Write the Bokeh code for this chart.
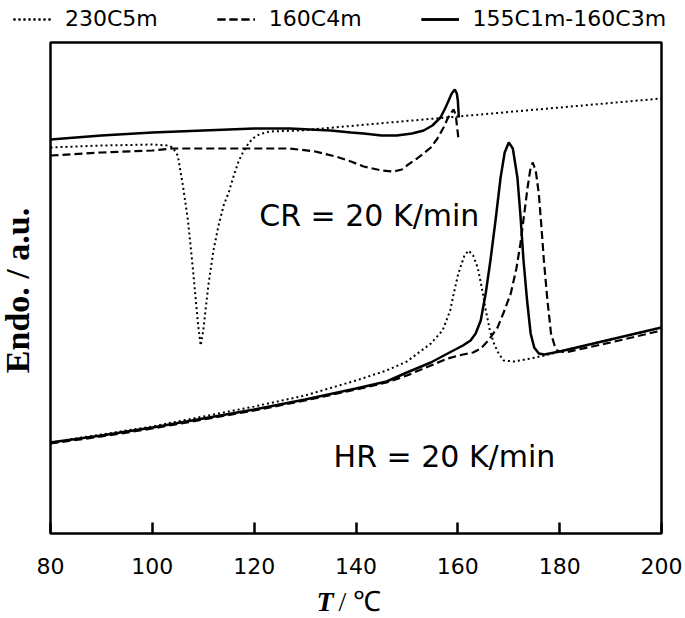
import math
from bokeh.plotting import figure
from bokeh.models import Range1d, FixedTicker, Label, Legend, LegendItem, BoxAnnotation
from bokeh.embed import file_html
from bokeh.resources import INLINE

# ---- data (temperature in deg C, heat flow in arbitrary units) ----
# cooling scans (CR = 20 K/min)
cool_230C5m_T = [80, 90, 100, 103, 104, 105, 106, 107, 108, 109, 109.5, 110, 111, 112, 113, 114, 115, 116, 117, 118, 119, 120, 121, 123, 129, 140, 160, 180, 200]
cool_230C5m_y = [38.6, 38.8, 38.9, 38.8, 38.6, 37.8, 34.8, 31.3, 26.3, 20.8, 18.8, 20.3, 24.8, 28.3, 30.8, 32.8, 34.1, 35.8, 37.3, 38.3, 39.1, 39.6, 39.9, 40.2, 40.3, 40.8, 41.7, 42.6, 43.5]

cool_160C4m_T = [80, 90, 100, 104, 110, 120, 127, 132, 136, 139, 141.5, 145, 147.4, 149, 150, 152, 154.7, 156, 157.2, 158, 158.6, 159.2, 159.6, 160, 160.1]
cool_160C4m_y = [37.8, 38.1, 38.3, 38.5, 38.5, 38.5, 38.5, 38.2, 37.7, 37.2, 36.7, 36.3, 36.2, 36.4, 36.8, 37.5, 38.6, 39.5, 40.6, 41.5, 42.0, 42.4, 41.8, 40.0, 39.6]

cool_155C1m_160C3m_T = [80, 90, 100, 110, 120, 127, 135, 139, 141.5, 145, 148, 151, 153.3, 155, 156.6, 157.5, 158.2, 158.8, 159.4, 159.8, 160, 160.2]
cool_155C1m_160C3m_y = [39.4, 39.8, 40.1, 40.3, 40.5, 40.5, 40.3, 40.1, 40.0, 39.8, 39.8, 40.0, 40.3, 40.8, 41.6, 42.5, 43.3, 44.0, 44.4, 44.0, 43.3, 41.6]

# heating scans (HR = 20 K/min)
heat_230C5m_T = [80, 90, 100, 110, 120, 130, 140, 146, 150, 154.7, 157, 158.5, 159.2, 160, 160.5, 161.3, 162.1, 163, 163.9, 164.7, 165.5, 166.3, 167.1, 168, 169, 171, 174.3, 177, 180, 190, 200]
heat_230C5m_y = [9.1, 9.9, 10.7, 11.7, 12.7, 13.8, 15.3, 16.3, 17.2, 19.0, 20.3, 22.3, 24.0, 25.8, 26.6, 27.8, 28.3, 27.8, 26.6, 24.6, 22.3, 20.3, 19.0, 18.0, 17.3, 17.2, 17.5, 17.8, 18.2, 19.4, 20.6]

heat_160C4m_T = [80, 90, 100, 110, 120, 130, 140, 146, 150, 154.7, 158, 161, 163, 164.5, 166, 167.8, 169, 170.4, 171.5, 172.3, 173, 173.7, 174.2, 174.7, 175.3, 175.9, 176.4, 176.9, 177.6, 178.3, 179, 179.5, 181, 190, 200]
heat_160C4m_y = [9.0, 9.7, 10.5, 11.4, 12.3, 13.3, 14.4, 15.1, 15.8, 16.8, 17.5, 17.9, 18.1, 18.5, 19.3, 20.6, 22.1, 24.0, 26.5, 29.0, 31.8, 34.6, 36.3, 37.1, 36.3, 34.0, 30.8, 27.3, 23.3, 20.0, 18.8, 18.3, 18.1, 19.1, 20.3]

heat_155C1m_160C3m_T = [80, 90, 100, 110, 120, 130, 140, 146, 150, 154.7, 158, 161, 162.5, 163.5, 164.5, 165.5, 166.4, 167.4, 168.4, 169.2, 170, 170.8, 171.7, 172.3, 172.9, 173.6, 174.3, 175, 175.9, 177, 180, 190, 200]
heat_155C1m_160C3m_y = [9.1, 9.8, 10.6, 11.5, 12.4, 13.4, 14.5, 15.2, 16.1, 17.1, 18.0, 18.8, 19.3, 20.0, 21.3, 24.1, 27.3, 31.3, 35.6, 38.1, 39.1, 38.5, 35.6, 31.8, 27.3, 23.3, 20.0, 18.6, 18.0, 17.9, 18.2, 19.4, 20.6]

series_names = ["230C5m", "160C4m", "155C1m-160C3m"]
x_ticks = [80, 100, 120, 140, 160, 180, 200]
x_box = (80, 200)      # plotted temperature span
y_box = (0, 49.1)      # plotted signal span (a.u.)

# ---- figure: frame covers the whole canvas, the box is drawn as an annotation ----
W, H = 685, 618
px_per_deg = 611 / (x_box[1] - x_box[0])
px_per_au = 10.0
p = figure(width=W, height=H, output_backend="svg", toolbar_location=None,
           x_range=Range1d(x_box[0] - 50 / px_per_deg, x_box[1] + (W - 661) / px_per_deg),
           y_range=Range1d(y_box[0] - (H - 533) / px_per_au, y_box[0] + 533 / px_per_au),
           min_border=0)
p.grid.visible = False
p.background_fill_color = "white"
p.border_fill_color = "white"
p.outline_line_color = None
p.yaxis.visible = False

p.add_layout(BoxAnnotation(left=x_box[0], right=x_box[1], bottom=y_box[0], top=y_box[1],
                           fill_alpha=0, line_color="black", line_alpha=1.0, line_width=2.5))

xa = p.xaxis[0]
xa.fixed_location = y_box[0]
xa.ticker = FixedTicker(ticks=x_ticks)
xa.axis_line_color = None
xa.major_tick_line_width = 2.5
xa.major_tick_in = 11
xa.major_tick_out = 0
xa.minor_tick_line_color = None
xa.major_label_text_font = "DejaVu Sans"
xa.major_label_text_font_size = "22px"
xa.major_label_text_color = "black"
xa.major_label_standoff = 24

styles = {
    "230C5m": dict(line_dash="2 3", line_width=2),
    "160C4m": dict(line_dash="8 4", line_width=2.2),
    "155C1m-160C3m": dict(line_dash="solid", line_width=2.5),
}

cool = {"230C5m": (cool_230C5m_T, cool_230C5m_y),
        "160C4m": (cool_160C4m_T, cool_160C4m_y),
        "155C1m-160C3m": (cool_155C1m_160C3m_T, cool_155C1m_160C3m_y)}
heat = {"230C5m": (heat_230C5m_T, heat_230C5m_y),
        "160C4m": (heat_160C4m_T, heat_160C4m_y),
        "155C1m-160C3m": (heat_155C1m_160C3m_T, heat_155C1m_160C3m_y)}

items = []
for name in series_names:
    r1 = p.line(cool[name][0], cool[name][1], line_color="black", **styles[name])
    r2 = p.line(heat[name][0], heat[name][1], line_color="black", **styles[name])
    items.append(LegendItem(label=name, renderers=[r1, r2]))

legend = Legend(items=items, orientation="horizontal", location=(13, 587),
                border_line_color=None, background_fill_alpha=0,
                label_text_font="DejaVu Sans", label_text_font_size="22px",
                label_text_color="black",
                glyph_width=38, glyph_height=20, label_standoff=14, spacing=59,
                padding=0, margin=0)
p.add_layout(legend, "center")

common = dict(text_color="black", text_baseline="middle")
p.add_layout(Label(x=121.0, y=31.8, text="CR = 20 K/min", text_font="DejaVu Sans",
                   text_font_size="30px", text_align="left", **common))
p.add_layout(Label(x=135.6, y=7.7, text="HR = 20 K/min", text_font="DejaVu Sans",
                   text_font_size="30px", text_align="left", **common))

# axis titles (screen units, from the canvas' bottom-left corner)
p.add_layout(Label(x=17, y=328, x_units="screen", y_units="screen",
                   text="Endo. / a.u.", angle=math.pi / 2,
                   text_font="Liberation Serif", text_font_style="bold",
                   text_font_size="34px", text_align="center", **common))
p.add_layout(Label(x=316, y=17, x_units="screen", y_units="screen", text="T",
                   text_font="Liberation Serif", text_font_style="bold italic",
                   text_font_size="28px", text_align="left", **common))
p.add_layout(Label(x=338, y=17, x_units="screen", y_units="screen", text="/ ℃",
                   text_font="Liberation Serif", text_font_size="28px",
                   text_align="left", **common))

open("out.html", "w").write(file_html(p, INLINE))
